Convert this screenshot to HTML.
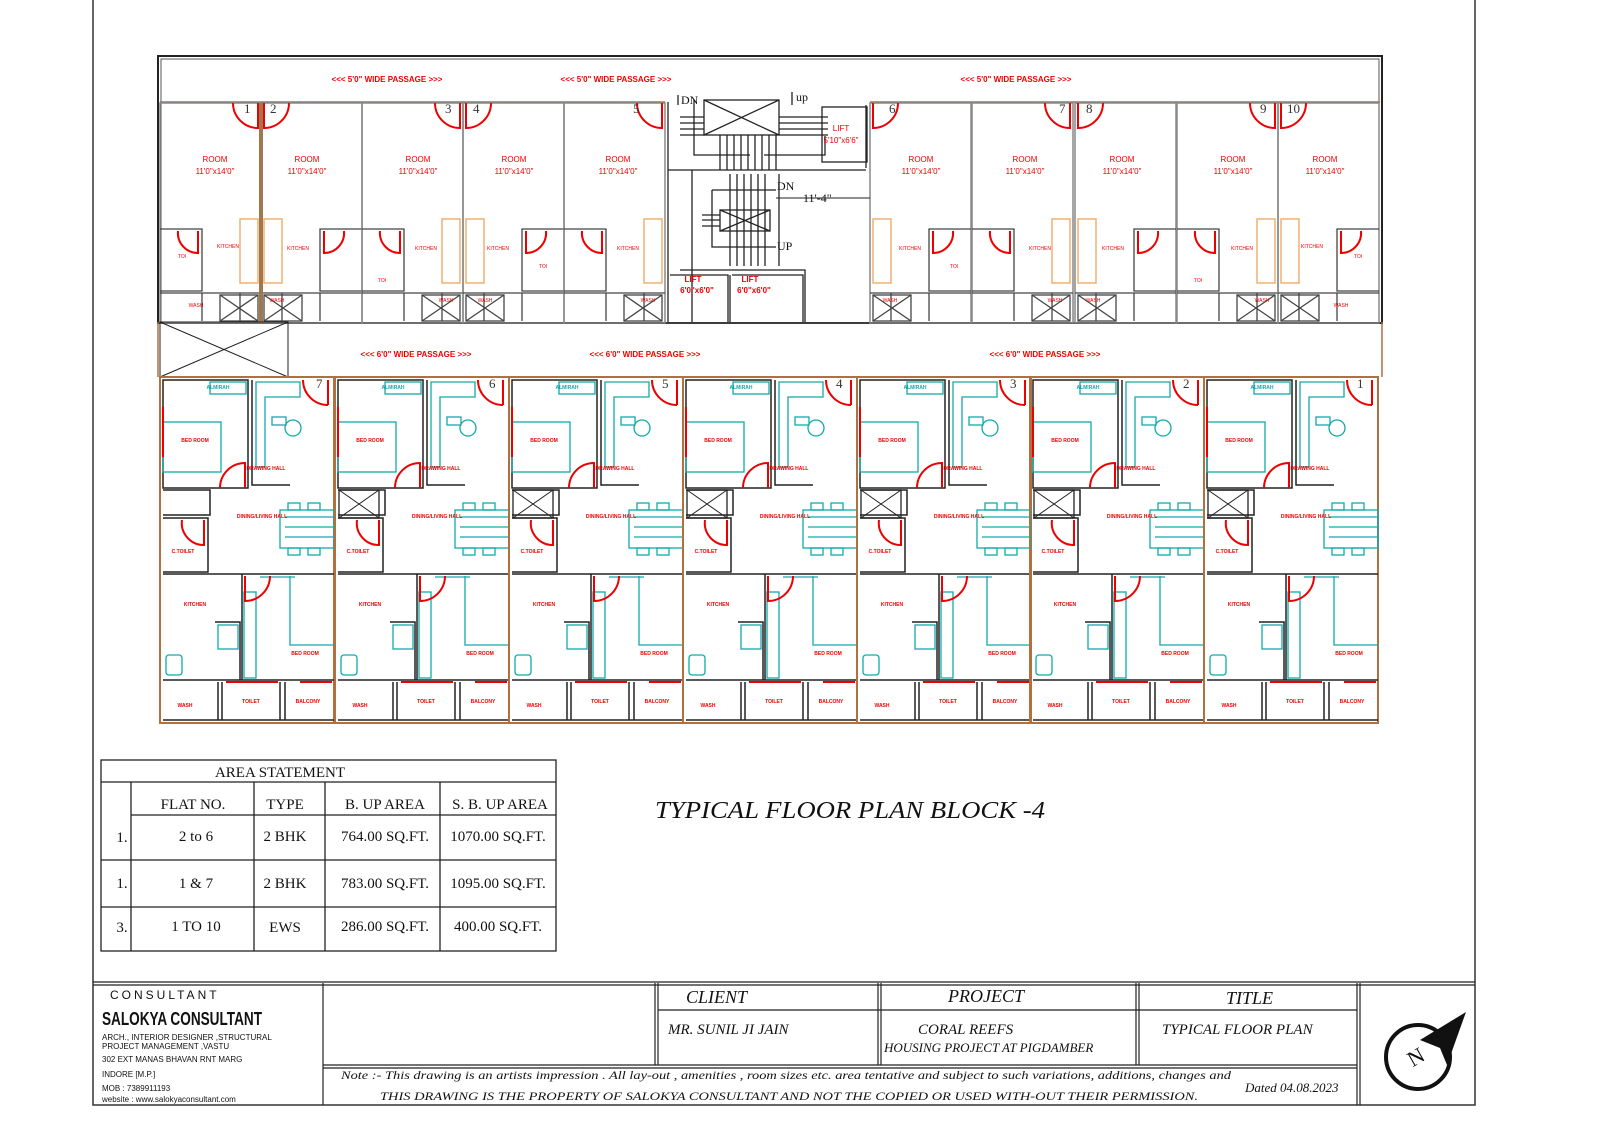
<!DOCTYPE html>
<html><head><meta charset="utf-8"><style>
html,body{margin:0;padding:0;background:#fff}
svg{display:block}
</style></head><body>
<svg width="1600" height="1130" viewBox="0 0 1600 1130" xmlns="http://www.w3.org/2000/svg" font-family="Liberation Sans, sans-serif">
<defs>
<g id="flat" fill="none">
 <rect x="0" y="0" width="174" height="346" stroke="#b07040" stroke-width="2"/>
 <g stroke="#222" stroke-width="1.5">
 <rect x="3" y="3" width="85" height="108"/>
 <path d="M92 3 V108 H130 M3 113 H50 V138 H3 M3 141 H48 V195 H3 M50 113 V138 M48 141 V195 M3 197 H174 M82 197 V303 M3 303 H174 M58 305 V343 M62 305 V343 M120 305 V343 M125 305 V343 M55 245 H80 V303 M3 343 H174"/>
 </g>
 <g stroke="#1aa" stroke-width="1.3">
 <rect x="3" y="45" width="58" height="50"/>
 <rect x="50" y="5" width="36" height="12"/>
 <path d="M96 5 H140 V20 H105 V90 H96 Z"/>
 <rect x="112" y="40" width="14" height="8"/><circle cx="133" cy="51" r="8"/>
 <rect x="120" y="133" width="54" height="38"/>
 <path d="M125 140 H174 M125 150 H174 M125 160 H174"/>
 <rect x="128" y="126" width="12" height="7"/><rect x="148" y="126" width="12" height="7"/>
 <rect x="128" y="171" width="12" height="7"/><rect x="148" y="171" width="12" height="7"/>
 <path d="M130 199 V268 H174"/><path d="M100 200 H135"/>
 <rect x="84" y="215" width="12" height="86"/>
 <rect x="58" y="248" width="20" height="24"/>
 <rect x="6" y="278" width="16" height="20" rx="3"/>
 </g>
 <g stroke="#e00" stroke-width="2">
 <path d="M168 3 V28 M168 28 A25 25 0 0 1 143 3"/>
 <path d="M85 111 V86 A25 25 0 0 0 60 111"/>
 <path d="M44 143 V168 A22 22 0 0 1 22 143"/>
 <path d="M85 199 V224 A25 25 0 0 0 110 199"/>
 <path d="M3 30 V80"/>
 <path d="M140 305 H172 M66 305 H118"/>
 </g>
</g>
<g id="room" fill="none">
 <rect x="0" y="0" width="101" height="220" stroke="#888" stroke-width="1.5"/>
 <g stroke="#444" stroke-width="1.3">
 <path d="M0 126 H42 V188 H0 M0 190 H101 M42 190 V218 M80 190 V218"/>
 <rect x="60" y="192" width="38" height="26"/><path d="M60 192 L98 218 M98 192 L60 218"/>
 </g>
 <rect x="80" y="116" width="18" height="64" stroke="#f0b070" stroke-width="1.5"/>
 <g stroke="#e00" stroke-width="2">
 <path d="M98 0 V25 A25 25 0 0 1 73 0"/>
 <path d="M38 128 V150 A20 20 0 0 1 18 128"/>
 </g>
</g>
<g id="xb"><rect width="40" height="28" fill="none" stroke="#222" stroke-width="1.3"/><path d="M0 0 L40 28 M40 0 L0 28" stroke="#222"/></g>
</defs>

<path d="M93 0 V1105 H1475 V0" fill="none" stroke="#333" stroke-width="1.5"/>

<rect x="158" y="56" width="1224" height="267" fill="none" stroke="#222" stroke-width="2"/>
<rect x="161" y="59" width="1218" height="264" fill="none" stroke="#555" stroke-width="1"/>
<path d="M160 102 H665 M870 102 H1380" stroke="#b07040" stroke-width="1.5"/>
<g font-size="8" font-weight="bold" fill="#e00" text-anchor="middle">
<text x="387" y="82">&lt;&lt;&lt; 5'0" WIDE PASSAGE &gt;&gt;&gt;</text>
<text x="616" y="82">&lt;&lt;&lt; 5'0" WIDE PASSAGE &gt;&gt;&gt;</text>
<text x="1016" y="82">&lt;&lt;&lt; 5'0" WIDE PASSAGE &gt;&gt;&gt;</text>
</g>
<use href="#room" x="160" y="103"/>
<use href="#room" transform="translate(362,103) scale(-1,1)"/>
<use href="#room" x="362" y="103"/>
<use href="#room" transform="translate(564,103) scale(-1,1)"/>
<use href="#room" x="564" y="103"/>
<use href="#room" transform="translate(971,103) scale(-1,1)"/>
<use href="#room" x="972" y="103"/>
<use href="#room" transform="translate(1176,103) scale(-1,1)"/>
<use href="#room" x="1177" y="103"/>
<use href="#room" transform="translate(1379,103) scale(-1,1)"/>
<rect x="259" y="103" width="4" height="220" fill="#a07850"/>
<g font-size="8" fill="#e00" text-anchor="middle">
<text x="215" y="162">ROOM</text><text x="215" y="174">11'0"x14'0"</text>
<text x="307" y="162">ROOM</text><text x="307" y="174">11'0"x14'0"</text>
<text x="418" y="162">ROOM</text><text x="418" y="174">11'0"x14'0"</text>
<text x="514" y="162">ROOM</text><text x="514" y="174">11'0"x14'0"</text>
<text x="618" y="162">ROOM</text><text x="618" y="174">11'0"x14'0"</text>
<text x="921" y="162">ROOM</text><text x="921" y="174">11'0"x14'0"</text>
<text x="1025" y="162">ROOM</text><text x="1025" y="174">11'0"x14'0"</text>
<text x="1122" y="162">ROOM</text><text x="1122" y="174">11'0"x14'0"</text>
<text x="1233" y="162">ROOM</text><text x="1233" y="174">11'0"x14'0"</text>
<text x="1325" y="162">ROOM</text><text x="1325" y="174">11'0"x14'0"</text>
</g>
<g font-size="5" fill="#e00" text-anchor="middle">
<text x="228" y="248">KITCHEN</text><text x="298" y="250">KITCHEN</text><text x="426" y="250">KITCHEN</text><text x="498" y="250">KITCHEN</text><text x="628" y="250">KITCHEN</text>
<text x="910" y="250">KITCHEN</text><text x="1040" y="250">KITCHEN</text><text x="1113" y="250">KITCHEN</text><text x="1242" y="250">KITCHEN</text><text x="1312" y="248">KITCHEN</text>
<text x="182" y="258">TOI</text><text x="382" y="282">TOI</text><text x="543" y="268">TOI</text><text x="954" y="268">TOI</text><text x="1198" y="282">TOI</text><text x="1358" y="258">TOI</text>
<text x="196" y="307">WASH</text><text x="277" y="302">WASH</text><text x="446" y="302">WASH</text><text x="485" y="302">WASH</text><text x="648" y="302">WASH</text>
<text x="890" y="302">WASH</text><text x="1055" y="302">WASH</text><text x="1093" y="302">WASH</text><text x="1262" y="302">WASH</text><text x="1341" y="307">WASH</text>
</g>
<g font-family="Liberation Serif, serif" font-size="13" fill="#333">
<text x="244" y="113">1</text><text x="270" y="113">2</text><text x="445" y="113">3</text><text x="473" y="113">4</text><text x="633" y="113">5</text>
<text x="889" y="113">6</text><text x="1059" y="113">7</text><text x="1086" y="113">8</text><text x="1260" y="113">9</text><text x="1287" y="113">10</text>
</g>
<g stroke="#222" stroke-width="1.3" fill="none">
<rect x="667" y="85" width="202" height="237" fill="#fff" stroke="none"/>
<path d="M668 102 V322 M866 170 H668 M692 170 V322"/>
<rect x="704" y="100" width="75" height="35"/><path d="M704 100 L779 135 M779 100 L704 135"/>
<path d="M680 117 H704 M680 123 H704 M680 129 H704 M680 135 H704 M779 117 H828 M779 123 H828 M779 129 H828 M779 135 H828"/>
<path d="M694 136 V155 H750 M764 155 H825 V136 M694 100 V155"/>
<path d="M720 135 V170 M727 135 V170 M734 135 V170 M741 135 V170 M748 135 V170 M755 135 V170 M762 135 V170 M769 135 V170 M776 135 V170"/>
<rect x="720" y="210" width="50" height="21"/><path d="M720 210 L770 231 M770 210 L720 231"/>
<path d="M730 174 V266 M737 174 V266 M744 174 V266 M751 174 V266 M758 174 V266 M765 174 V266 M779 174 V266"/>
<path d="M702 215 H720 M702 220 H720 M702 226 H720 M712 190 H776 M712 190 V247 H776"/>
<path d="M680 270 H805 V322 M670 275 H728 V322 M730 275 V322 M732 275 H803 V322"/>
<rect x="822" y="107" width="45" height="55"/>
<path d="M866 105 V168"/>
<path d="M792 92 V105 M678 95 V105"/>
</g>
<path d="M776 198 H870" stroke="#222"/>
<g font-family="Liberation Serif, serif" font-size="12" fill="#111">
<text x="681" y="104">DN</text><text x="796" y="101">up</text><text x="777" y="190">DN</text><text x="803" y="202">11'-4"</text><text x="777" y="250">UP</text>
</g>
<g font-size="8" fill="#e00" text-anchor="middle"><text x="841" y="131">LIFT</text><text x="841" y="143">5'10"x6'6"</text></g>
<g font-size="8" font-weight="bold" fill="#e00" text-anchor="middle"><text x="693" y="282">LIFT</text><text x="697" y="293">6'0"x6'0"</text><text x="750" y="282">LIFT</text><text x="754" y="293">6'0"x6'0"</text></g>

<path d="M158 322 V377 M1382 322 V377" stroke="#b07040" stroke-width="1.5"/>
<rect x="160" y="322" width="128" height="55" fill="none" stroke="#222"/>
<path d="M160 322 L288 377 M288 322 L160 377" stroke="#222"/>
<g font-size="8" font-weight="bold" fill="#e00" text-anchor="middle">
<text x="416" y="357">&lt;&lt;&lt; 6'0" WIDE PASSAGE &gt;&gt;&gt;</text>
<text x="645" y="357">&lt;&lt;&lt; 6'0" WIDE PASSAGE &gt;&gt;&gt;</text>
<text x="1045" y="357">&lt;&lt;&lt; 6'0" WIDE PASSAGE &gt;&gt;&gt;</text>
</g>

<use href="#flat" x="160" y="377"/><use href="#flat" x="335" y="377"/><use href="#flat" x="509" y="377"/><use href="#flat" x="683" y="377"/><use href="#flat" x="857" y="377"/><use href="#flat" x="1030" y="377"/><use href="#flat" x="1204" y="377"/>
<use href="#xb" x="339" y="490"/><use href="#xb" x="513" y="490"/><use href="#xb" x="687" y="490"/><use href="#xb" x="861" y="490"/><use href="#xb" x="1034" y="490"/><use href="#xb" x="1208" y="490"/>
<g font-family="Liberation Serif, serif" font-size="13" fill="#333">
<text x="316" y="388">7</text><text x="489" y="388">6</text><text x="662" y="388">5</text><text x="836" y="388">4</text><text x="1010" y="388">3</text><text x="1183" y="388">2</text><text x="1357" y="388">1</text>
</g>
<g font-size="5" font-weight="bold" fill="#e00" text-anchor="middle">
<text x="195" y="442">BED ROOM</text><text x="370" y="442">BED ROOM</text><text x="544" y="442">BED ROOM</text><text x="718" y="442">BED ROOM</text><text x="892" y="442">BED ROOM</text><text x="1065" y="442">BED ROOM</text><text x="1239" y="442">BED ROOM</text>
<text x="266" y="470">DRAWING HALL</text><text x="441" y="470">DRAWING HALL</text><text x="615" y="470">DRAWING HALL</text><text x="789" y="470">DRAWING HALL</text><text x="963" y="470">DRAWING HALL</text><text x="1136" y="470">DRAWING HALL</text><text x="1310" y="470">DRAWING HALL</text>
<text x="262" y="518">DINING/LIVING HALL</text><text x="437" y="518">DINING/LIVING HALL</text><text x="611" y="518">DINING/LIVING HALL</text><text x="785" y="518">DINING/LIVING HALL</text><text x="959" y="518">DINING/LIVING HALL</text><text x="1132" y="518">DINING/LIVING HALL</text><text x="1306" y="518">DINING/LIVING HALL</text>
<text x="183" y="553">C.TOILET</text><text x="358" y="553">C.TOILET</text><text x="532" y="553">C.TOILET</text><text x="706" y="553">C.TOILET</text><text x="880" y="553">C.TOILET</text><text x="1053" y="553">C.TOILET</text><text x="1227" y="553">C.TOILET</text>
<text x="195" y="606">KITCHEN</text><text x="370" y="606">KITCHEN</text><text x="544" y="606">KITCHEN</text><text x="718" y="606">KITCHEN</text><text x="892" y="606">KITCHEN</text><text x="1065" y="606">KITCHEN</text><text x="1239" y="606">KITCHEN</text>
<text x="305" y="655">BED ROOM</text><text x="480" y="655">BED ROOM</text><text x="654" y="655">BED ROOM</text><text x="828" y="655">BED ROOM</text><text x="1002" y="655">BED ROOM</text><text x="1175" y="655">BED ROOM</text><text x="1349" y="655">BED ROOM</text>
<text x="185" y="707">WASH</text><text x="360" y="707">WASH</text><text x="534" y="707">WASH</text><text x="708" y="707">WASH</text><text x="882" y="707">WASH</text><text x="1055" y="707">WASH</text><text x="1229" y="707">WASH</text>
<text x="251" y="703">TOILET</text><text x="426" y="703">TOILET</text><text x="600" y="703">TOILET</text><text x="774" y="703">TOILET</text><text x="948" y="703">TOILET</text><text x="1121" y="703">TOILET</text><text x="1295" y="703">TOILET</text>
<text x="308" y="703">BALCONY</text><text x="483" y="703">BALCONY</text><text x="657" y="703">BALCONY</text><text x="831" y="703">BALCONY</text><text x="1005" y="703">BALCONY</text><text x="1178" y="703">BALCONY</text><text x="1352" y="703">BALCONY</text>
</g>
<g font-size="5" font-weight="bold" fill="#1aa" text-anchor="middle">
<text x="218" y="389">ALMIRAH</text><text x="393" y="389">ALMIRAH</text><text x="567" y="389">ALMIRAH</text><text x="741" y="389">ALMIRAH</text><text x="915" y="389">ALMIRAH</text><text x="1088" y="389">ALMIRAH</text><text x="1262" y="389">ALMIRAH</text>
</g>

<g stroke="#222" stroke-width="1.3" fill="none">
<rect x="101" y="760" width="455" height="191"/>
<path d="M101 782 H556 M131 815 H556 M101 860 H556 M101 907 H556 M131 782 V951 M254 782 V951 M325 782 V951 M440 782 V951"/>
</g>
<g font-family="Liberation Serif, serif" font-size="15" fill="#111" text-anchor="middle">
<text x="280" y="777">AREA STATEMENT</text>
<text x="193" y="809">FLAT NO.</text><text x="285" y="809">TYPE</text><text x="385" y="809">B. UP AREA</text><text x="500" y="809">S. B. UP AREA</text>
<text x="122" y="842">1.</text><text x="196" y="841">2 to 6</text><text x="285" y="841">2 BHK</text><text x="385" y="841">764.00 SQ.FT.</text><text x="498" y="841">1070.00 SQ.FT.</text>
<text x="122" y="888">1.</text><text x="196" y="888">1 &amp; 7</text><text x="285" y="888">2 BHK</text><text x="385" y="888">783.00 SQ.FT.</text><text x="498" y="888">1095.00 SQ.FT.</text>
<text x="122" y="932">3.</text><text x="196" y="931">1 TO 10</text><text x="285" y="932">EWS</text><text x="385" y="931">286.00 SQ.FT.</text><text x="498" y="931">400.00 SQ.FT.</text>
</g>
<text x="655" y="818" font-family="Liberation Serif, serif" font-size="24" font-style="italic" fill="#111" textLength="390" lengthAdjust="spacingAndGlyphs">TYPICAL FLOOR PLAN  BLOCK -4</text>

<g stroke="#222" fill="none">
<path d="M93 982 H1475 M93 985 H1475" stroke-width="1.3"/>
<path d="M323 983 V1105 M655 983 V1065 M658 983 V1065 M878 983 V1065 M881 983 V1065 M1136 983 V1065 M1139 983 V1065 M1357 983 V1105 M1360 983 V1105" stroke-width="1.2"/>
<path d="M658 1010 H1357 M323 1065 H1357 M323 1068 H1357" stroke-width="1.2"/>
</g>
<text x="110" y="999" font-size="12" letter-spacing="3" fill="#111">CONSULTANT</text>
<text x="102" y="1025" font-size="18" font-weight="bold" fill="#111" textLength="160" lengthAdjust="spacingAndGlyphs">SALOKYA CONSULTANT</text>
<g font-size="8" fill="#111">
<text x="102" y="1040">ARCH., INTERIOR DESIGNER ,STRUCTURAL</text>
<text x="102" y="1049">PROJECT MANAGEMENT ,VASTU</text>
<text x="102" y="1062">302 EXT MANAS BHAVAN RNT MARG</text>
<text x="102" y="1077">INDORE [M.P.]</text>
<text x="102" y="1091">MOB : 7389911193</text>
<text x="102" y="1102">website : www.salokyaconsultant.com</text>
</g>
<g font-family="Liberation Serif, serif" font-style="italic" fill="#111">
<text x="686" y="1003" font-size="18">CLIENT</text>
<text x="948" y="1002" font-size="18">PROJECT</text>
<text x="1226" y="1004" font-size="18">TITLE</text>
<text x="668" y="1034" font-size="15">MR. SUNIL JI JAIN</text>
<text x="918" y="1034" font-size="15">CORAL REEFS</text>
<text x="884" y="1052" font-size="13">HOUSING PROJECT AT PIGDAMBER</text>
<text x="1162" y="1034" font-size="15">TYPICAL FLOOR PLAN</text>
<text x="341" y="1079" font-size="12" textLength="890" lengthAdjust="spacingAndGlyphs">Note :- This drawing is an artists impression . All lay-out , amenities , room sizes etc. area tentative and subject to such variations, additions, changes and</text>
<text x="380" y="1100" font-size="12" textLength="818" lengthAdjust="spacingAndGlyphs">THIS DRAWING IS THE PROPERTY OF SALOKYA CONSULTANT AND NOT THE COPIED OR USED WITH-OUT THEIR PERMISSION.</text>
<text x="1245" y="1092" font-size="13">Dated 04.08.2023</text>
</g>
<circle cx="1418" cy="1057" r="32" stroke="#111" stroke-width="4" fill="none"/>
<path d="M1466 1012 L1420 1040 L1440 1048 L1447 1065 Z" fill="#111"/>
<text x="1408" y="1066" font-family="Liberation Serif, serif" font-size="22" fill="#111" transform="rotate(-30 1413 1058)">N</text>
</svg>
</body></html>
